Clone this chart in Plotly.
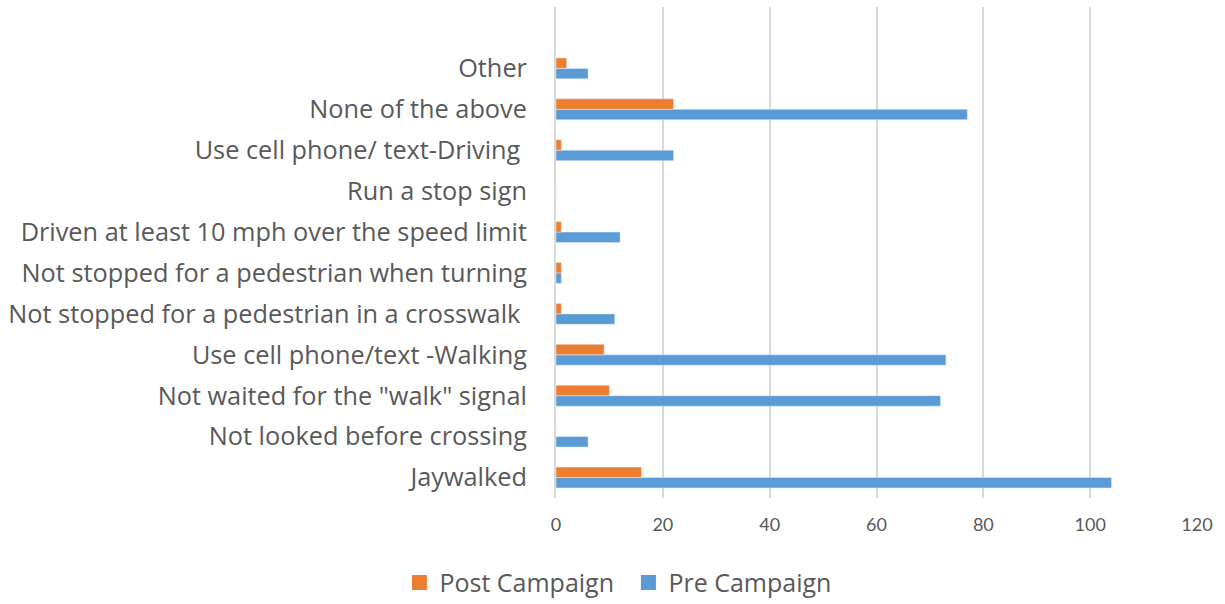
import plotly.graph_objects as go

categories = [
    "Jaywalked",
    "Not looked before crossing",
    'Not waited for the "walk" signal',
    "Use cell phone/text -Walking",
    "Not stopped for a pedestrian in a crosswalk\u00a0",
    "Not stopped for a pedestrian when turning",
    "Driven at least 10 mph over the speed limit",
    "Run a stop sign",
    "Use cell phone/ text-Driving\u00a0",
    "None of the above",
    "Other",
]
pre_campaign = [104, 6, 72, 73, 11, 1, 12, 0, 22, 77, 6]
post_campaign = [16, 0, 10, 9, 1, 1, 1, 0, 1, 22, 2]
x_ticks = [0, 20, 40, 60, 80, 100, 120]

TEXT = "#595959"
FONT = "'Open Sans', sans-serif"
PRE_COLOR = "#5B9BD5"
POST_COLOR = "#ED7D31"

fig = go.Figure()
fig.add_trace(go.Bar(
    y=categories, x=pre_campaign, orientation="h", name="Pre Campaign",
    marker=dict(color=PRE_COLOR), showlegend=False,
))
fig.add_trace(go.Bar(
    y=categories, x=post_campaign, orientation="h", name="Post Campaign",
    marker=dict(color=POST_COLOR), showlegend=False,
))

# Legend entries with larger square swatches
for name, color, rank in [("Post Campaign", POST_COLOR, 1), ("Pre Campaign", PRE_COLOR, 2)]:
    fig.add_trace(go.Scatter(
        x=[None], y=[None], mode="markers", name=name, legendrank=rank,
        marker=dict(symbol="square", size=15, color=color),
    ))

fig.update_layout(
    width=1225, height=604,
    margin=dict(l=556, r=28, t=7, b=106),
    paper_bgcolor="white", plot_bgcolor="white",
    barmode="group", bargap=0.49, bargroupgap=0,
    font=dict(family=FONT, color=TEXT, size=22),
    showlegend=True,
    legend=dict(
        orientation="h", xref="container", yref="container",
        x=0.513, y=0.035, xanchor="center", yanchor="middle",
        font=dict(size=25, color=TEXT), itemwidth=30,
        entrywidth=184, entrywidthmode="pixels", tracegroupgap=0,
    ),
)
fig.update_xaxes(
    range=[0, 120], tickvals=x_ticks, showgrid=True, automargin=False,
    gridcolor="#D9D9D9", gridwidth=2, zeroline=False, showline=False,
    tickfont=dict(family="Lato, sans-serif", size=18, color=TEXT),
    ticklabelstandoff=14,
)
fig.update_yaxes(
    categoryorder="array", categoryarray=categories,
    range=[-0.5, len(categories) + 0.5], automargin=False,
    showgrid=False, zeroline=False, showline=True,
    linecolor="#D9D9D9", linewidth=2,
    tickfont=dict(size=25.3, color=TEXT), ticklabelstandoff=22,
)

fig.write_html("out.html")
